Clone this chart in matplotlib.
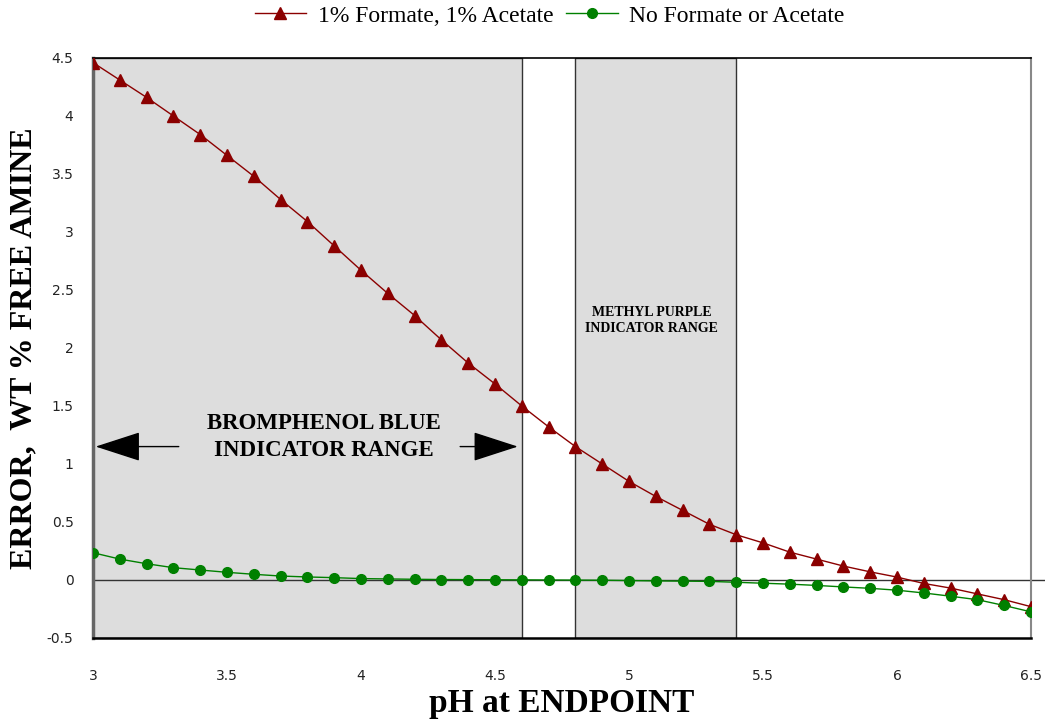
import numpy as np
import matplotlib
matplotlib.use('Agg')
import matplotlib.pyplot as plt

# pH at endpoint
ph = [3.0, 3.1, 3.2, 3.3, 3.4, 3.5, 3.6, 3.7, 3.8, 3.9,
      4.0, 4.1, 4.2, 4.3, 4.4, 4.5, 4.6, 4.7, 4.8, 4.9,
      5.0, 5.1, 5.2, 5.3, 5.4, 5.5, 5.6, 5.7, 5.8, 5.9,
      6.0, 6.1, 6.2, 6.3, 6.4, 6.5]

# error, wt % free amine
with_salts = [4.46, 4.31, 4.16, 4.00, 3.84, 3.66, 3.48, 3.28, 3.09, 2.88,
              2.67, 2.47, 2.28, 2.07, 1.87, 1.69, 1.50, 1.32, 1.15, 1.00,
              0.85, 0.72, 0.60, 0.48, 0.39, 0.32, 0.24, 0.18, 0.12, 0.07,
              0.025, -0.03, -0.07, -0.12, -0.17, -0.23]
no_salts = [0.235, 0.18, 0.14, 0.106, 0.086, 0.066, 0.049, 0.034, 0.026, 0.02,
            0.012, 0.009, 0.006, 0.004, 0.003, 0.002, 0.001, 0.0, -0.001, -0.002,
            -0.005, -0.008, -0.01, -0.012, -0.02, -0.028, -0.036, -0.047, -0.06, -0.072,
            -0.088, -0.112, -0.14, -0.17, -0.22, -0.275]

series_labels = ['1% Formate, 1% Acetate', 'No Formate or Acetate']

bromphenol_range = (3.0, 4.6)
methyl_purple_range = (4.8, 5.4)

xticks = [3, 3.5, 4, 4.5, 5, 5.5, 6, 6.5]
xticklabels = ['3', '3.5', '4', '4.5', '5', '5.5', '6', '6.5']
yticks = [-0.5, 0, 0.5, 1, 1.5, 2, 2.5, 3, 3.5, 4, 4.5]
yticklabels = ['-0.5', '0', '0.5', '1', '1.5', '2', '2.5', '3', '3.5', '4', '4.5']

serif = ['Liberation Serif', 'DejaVu Serif']

fig = plt.figure(figsize=(10.45, 7.23), dpi=100)
ax = fig.add_axes([0.089, 0.1176, 0.8976, 0.8022])

# indicator ranges
for lo, hi in (bromphenol_range, methyl_purple_range):
    ax.axvspan(lo, hi, facecolor='#dddddd', edgecolor='#333333', lw=1.0, zorder=0)

ax.axhline(0, xmin=0, xmax=1.02, color='#333333', lw=1.0, clip_on=False, zorder=1)

ax.plot(ph, with_salts, color='#8b0000', lw=1.0, marker='^', markersize=9,
        markerfacecolor='#8b0000', markeredgecolor='#8b0000', label=series_labels[0], zorder=3)
ax.plot(ph, no_salts, color='#008000', lw=1.0, marker='o', markersize=7,
        markerfacecolor='#008000', markeredgecolor='#008000', label=series_labels[1], zorder=3)

ax.set_xlim(3, 6.5)
ax.set_ylim(-0.5, 4.5)
ax.set_xticks(xticks)
ax.set_xticklabels(xticklabels)
ax.set_yticks(yticks)
ax.set_yticklabels(yticklabels)
ax.tick_params(axis='both', length=0, labelsize=10, colors='#222222')
ax.tick_params(axis='x', pad=22)
ax.tick_params(axis='y', pad=14)

ax.spines['top'].set_color('black')
ax.spines['top'].set_linewidth(1.2)
ax.spines['bottom'].set_color('black')
ax.spines['bottom'].set_linewidth(1.8)
ax.spines['left'].set_color('#666666')
ax.spines['left'].set_linewidth(2.5)
ax.spines['right'].set_color('#888888')
ax.spines['right'].set_linewidth(1.5)

ax.set_xlabel('pH at ENDPOINT', fontsize=24, fontweight='bold', family=serif, labelpad=4)
ax.set_ylabel('ERROR,  WT % FREE AMINE', fontsize=23, fontweight='bold', family=serif, labelpad=6)

ax.text(3.86, 1.23, 'BROMPHENOL BLUE\nINDICATOR RANGE', ha='center', va='center',
        fontsize=16.5, fontweight='bold', family=serif, linespacing=1.35)
ax.text(5.085, 2.24, 'METHYL PURPLE\nINDICATOR RANGE', ha='center', va='center',
        fontsize=10, fontweight='bold', family=serif, linespacing=1.3)

arrow = dict(arrowstyle='-|>,head_length=1.45,head_width=0.47', mutation_scale=20,
             color='black', lw=1.0, shrinkA=0, shrinkB=0)
ax.annotate('', xy=(3.01, 1.15), xytext=(3.32, 1.15), arrowprops=arrow)
ax.annotate('', xy=(4.585, 1.15), xytext=(4.37, 1.15), arrowprops=arrow)

fig.legend(loc='center', bbox_to_anchor=(0.526, 0.978), ncol=2, frameon=False,
           prop={'family': serif, 'size': 17}, handlelength=2.2, columnspacing=0.5,
           handletextpad=0.5)

fig.savefig('out.png', dpi=100)
